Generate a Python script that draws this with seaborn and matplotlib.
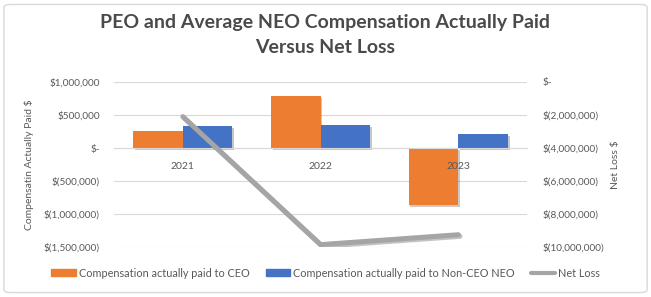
import numpy as np
import pandas as pd
import matplotlib.pyplot as plt
import matplotlib.patheffects as pe
from matplotlib.patches import FancyBboxPatch
from matplotlib.ticker import FuncFormatter
import seaborn as sns

years = ["2021", "2022", "2023"]
ceo_cap = [260000, 785000, -865000]
neo_cap = [335000, 350000, 210000]
net_loss = [-2100000, -9850000, -9250000]
series_names = ["Compensation actually paid to CEO", "Compensation actually paid to Non-CEO NEO"]

ORANGE = "#ED7D31"
BLUE = "#4472C4"
GRAY = "#A5A5A5"
TXT = "#595959"

df = pd.DataFrame({
    "year": years * 2,
    "value": ceo_cap + neo_cap,
    "series": [series_names[0]] * 3 + [series_names[1]] * 3,
})

sns.set_style("white")
plt.rcParams["font.family"] = ["Lato", "DejaVu Sans"]

fig = plt.figure(figsize=(6.51, 2.97), dpi=100)
ax = fig.add_axes([0.175, 0.168, 0.635, 0.556])
ax2 = ax.twinx()

sns.barplot(data=df, x="year", y="value", hue="series", palette=[ORANGE, BLUE],
            width=0.72, gap=0, saturation=1, linewidth=0, ax=ax, legend=False, zorder=2)
for p in ax.patches:
    p.set_path_effects([pe.SimplePatchShadow(offset=(1.2, -1.2), alpha=0.25), pe.Normal()])

sns.lineplot(x=years, y=net_loss, ax=ax2, color=GRAY, linewidth=3.6, sort=False,
             path_effects=[pe.SimpleLineShadow(offset=(1.2, -1.2), alpha=0.35, shadow_color="#555555"),
                           pe.Normal()])

def money(v, pos):
    if abs(v) < 1:
        return "$-"
    if v < 0:
        return f"$({abs(v):,.0f})"
    return f"${v:,.0f}"

ax.set_ylim(-1500000, 1000000)
ax.set_yticks(np.arange(-1500000, 1000001, 500000))
ax.yaxis.set_major_formatter(FuncFormatter(money))
ax2.set_ylim(-10000000, 0)
ax2.set_yticks(np.arange(-10000000, 1, 2000000))
ax2.yaxis.set_major_formatter(FuncFormatter(money))
ax.set_xlim(-0.5, 2.5)

ax.grid(axis="y", color="#D9D9D9", linewidth=0.8, zorder=0)
ax.set_axisbelow(True)
for a in (ax, ax2):
    for s in a.spines.values():
        s.set_visible(False)
ax.spines["bottom"].set_visible(True)
ax.spines["bottom"].set_position(("data", 0))
ax.spines["bottom"].set_color("#D9D9D9")
ax.tick_params(axis="x", length=0, labelbottom=False)

# year labels drawn by the top axes so they sit over the bars
ax2.xaxis.set_visible(True)
ax2.spines["bottom"].set_position(("data", -4000000))
ax2.tick_params(axis="x", length=0, pad=10, labelsize=7.5, labelcolor=TXT)
ax2.set_xticks(ax.get_xticks())
ax2.set_xticklabels(years)
ax2.set_xlabel("")

ax.tick_params(axis="y", length=0, pad=10, labelsize=7.2, labelcolor=TXT)
ax2.tick_params(axis="y", length=0, pad=11, labelsize=7.2, labelcolor=TXT)
ax.set_xlabel("")
ax.set_ylabel("Compensatin Actually Paid $", fontsize=7.5, color=TXT, labelpad=7)
ax2.set_ylabel("Net Loss $", fontsize=7.5, color=TXT, labelpad=5)

fig.text(0.5, 0.925, "PEO and Average NEO Compensation Actually Paid", ha="center", va="center",
         fontsize=14, fontweight="bold", color="#4A4A4A")
fig.text(0.5, 0.84, "Versus Net Loss", ha="center", va="center",
         fontsize=14, fontweight="bold", color="#4A4A4A")

handles = [plt.Rectangle((0, 0), 1, 1, color=ORANGE), plt.Rectangle((0, 0), 1, 1, color=BLUE),
           plt.Line2D([0], [0], color=GRAY, linewidth=3)]
fig.legend(handles, series_names + ["Net Loss"], loc="center", bbox_to_anchor=(0.5, 0.08),
           ncol=3, frameon=False, fontsize=7.8, labelcolor=TXT, handlelength=2.3,
           handleheight=0.6, handletextpad=0.2, columnspacing=1.5)

fig.patches.append(FancyBboxPatch((0.006, 0.015), 0.988, 0.97, boxstyle="round,pad=0,rounding_size=0.01",
                                  transform=fig.transFigure, fill=False, edgecolor="#D9D9D9", linewidth=1))

fig.savefig("out.png", dpi=100, facecolor="white")
